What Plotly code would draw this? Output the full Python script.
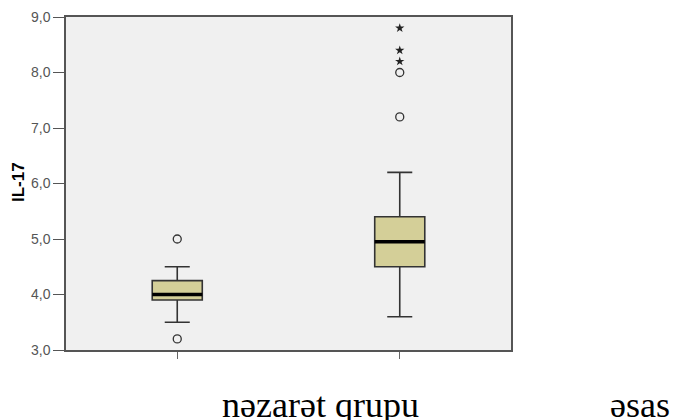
import plotly.graph_objects as go

# Data (IL-17)
categories = ["nəzarət qrupu", "əsas"]
cat_pos = [0, 1]
q1 = [3.9, 4.5]
median = [4.0, 4.95]
q3 = [4.25, 5.4]
lower_whisker = [3.5, 3.6]
upper_whisker = [4.5, 6.2]
outlier_group = [0, 0, 1, 1]
outlier_values = [5.0, 3.2, 8.0, 7.2]
extreme_group = [1, 1, 1]
extreme_values = [8.8, 8.4, 8.2]
y_title = "IL-17"

BOX_W = 0.225
FILL = "#D4CF98"
EDGE = "#333333"

fig = go.Figure()
fig.add_trace(go.Box(
    x=cat_pos, q1=q1, median=median, q3=q3,
    lowerfence=lower_whisker, upperfence=upper_whisker,
    width=BOX_W, whiskerwidth=0.5, boxpoints=False,
    fillcolor=FILL, line=dict(color=EDGE, width=1.6),
    hoverinfo="skip", showlegend=False,
))

# thick median lines
mx, my = [], []
for p, m in zip(cat_pos, median):
    mx += [p - BOX_W / 2, p + BOX_W / 2, None]
    my += [m, m, None]
fig.add_trace(go.Scatter(x=mx, y=my, mode="lines",
                         line=dict(color="black", width=3.5),
                         showlegend=False, hoverinfo="skip"))

fig.add_trace(go.Scatter(x=outlier_group, y=outlier_values, mode="markers",
                         marker=dict(symbol="circle-open", size=8,
                                     color=EDGE, line=dict(width=1.3)),
                         showlegend=False, cliponaxis=False))
fig.add_trace(go.Scatter(x=extreme_group, y=extreme_values, mode="markers",
                         marker=dict(symbol="star", size=7, color="#222222",
                                     line=dict(width=0)),
                         showlegend=False, cliponaxis=False))

# category labels (placed as in the document, below the chart)
label_x = [0.572, 1.29]
for txt, lx in zip(categories, label_x):
    fig.add_annotation(text=txt, x=lx, y=-0.165, xref="paper", yref="paper",
                       xanchor="center", yanchor="middle", showarrow=False,
                       font=dict(family="Liberation Serif, DejaVu Serif, serif",
                                 size=36, color="black"))

# y-axis title
fig.add_annotation(text="<b>" + y_title + "</b>", x=-0.1067, y=0.503,
                   xref="paper", yref="paper", textangle=-90,
                   xanchor="center", yanchor="middle", showarrow=False,
                   font=dict(family="Arial, Liberation Sans, sans-serif",
                             size=17, color="black"))

fig.update_layout(
    width=675, height=420,
    margin=dict(l=66, r=164, t=17, b=70, autoexpand=False),
    paper_bgcolor="white", plot_bgcolor="#F0F0F0",
    separators=",.",
    font=dict(family="Arial, Liberation Sans, sans-serif"),
)
fig.update_xaxes(range=[-0.5, 1.5], tickvals=cat_pos, ticktext=["", ""],
                 ticks="outside", ticklen=7, tickcolor="#666666", tickwidth=1.2,
                 showgrid=False, zeroline=False, automargin=False,
                 showline=True, linecolor="#555555", linewidth=1.5, mirror=True)
fig.update_yaxes(range=[3, 9], dtick=1, tick0=3, tickformat=".1f",
                 ticks="outside", ticklen=11, tickcolor="#555555", tickwidth=1.2,
                 tickfont=dict(size=14, color="#555555"),
                 showgrid=False, zeroline=False, automargin=False,
                 showline=True, linecolor="#555555", linewidth=1.5, mirror=True)

fig.write_html("out.html", config={"displayModeBar": False},
               post_script="document.body.style.margin='0';document.body.style.overflow='hidden';")
